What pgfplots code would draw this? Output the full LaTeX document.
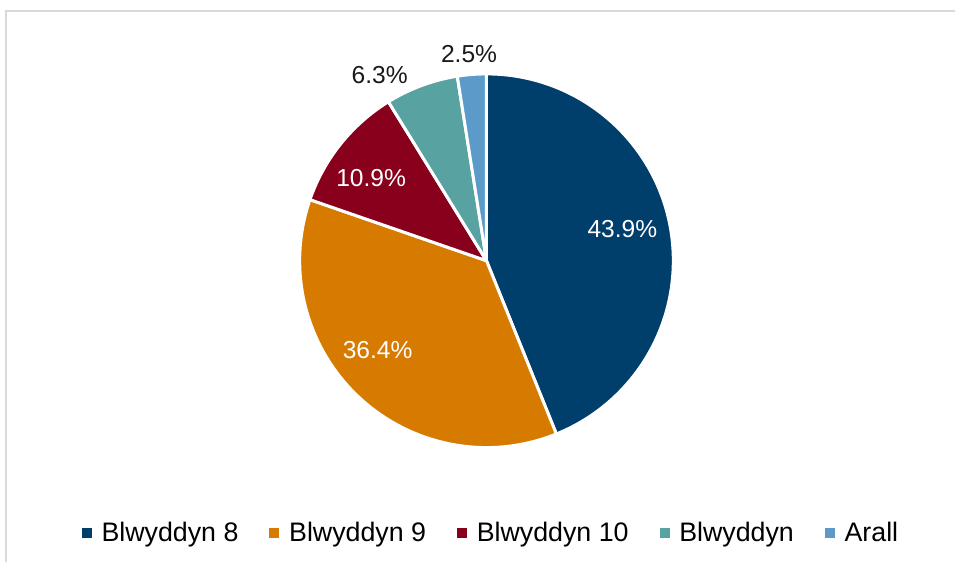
\documentclass[border=0pt]{standalone}
\usepackage{pgfplots}
\pgfplotsset{compat=1.18}
\usepackage{fontspec}
\setmainfont{Liberation Sans}
\definecolor{cA}{RGB}{0,62,107}
\definecolor{cB}{RGB}{215,123,0}
\definecolor{cC}{RGB}{136,0,27}
\definecolor{cD}{RGB}{88,162,162}
\definecolor{cE}{RGB}{92,155,201}
\definecolor{frame}{RGB}{217,217,217}
\newcommand{\lblfont}{\fontsize{12.3bp}{14bp}\selectfont}
\newcommand{\legfont}{\fontsize{13.4bp}{15bp}\selectfont}
% slice values (percent)
\def\vA{43.9}
\def\vB{36.4}
\def\vC{10.9}
\def\vD{6.3}
\def\vE{2.5}
\begin{document}
\begin{tikzpicture}
\begin{axis}[
  scale only axis,
  x=0.5bp, y=0.5bp,
  xmin=0, xmax=956, ymin=0, ymax=563,
  y dir=reverse,
  hide axis,
  clip=false,
  legend columns=5,
  legend style={draw=none, fill=none, font=\legfont,
    at={(axis cs:492.5,533.5)}, anchor=center,
    /tikz/every odd column/.append style={column sep=3bp},
    /tikz/every even column/.append style={column sep=13.5bp},
    inner sep=0pt},
  legend image code/.code={\fill[#1] (0bp,-2.25bp) rectangle (4.5bp,2.25bp);},
]
\path (axis cs:0,0) rectangle (axis cs:956,563);
\draw[frame, line width=1bp] (axis cs:6,563) -- (axis cs:6,11) -- (axis cs:956,11);
% pie slices, clockwise from 12 o'clock
\pgfmathsetmacro{\aA}{90}
\pgfmathsetmacro{\aB}{\aA-3.6*\vA}
\pgfmathsetmacro{\aC}{\aB-3.6*\vB}
\pgfmathsetmacro{\aD}{\aC-3.6*\vC}
\pgfmathsetmacro{\aE}{\aD-3.6*\vD}
\pgfmathsetmacro{\aF}{\aE-3.6*\vE}
\filldraw[fill=cA, draw=white, line width=1.5bp, line join=round] (axis cs:487,261) -- ++(\aA:93.5bp) arc[start angle=\aA, end angle=\aB, radius=93.5bp] -- cycle;
\filldraw[fill=cB, draw=white, line width=1.5bp, line join=round] (axis cs:487,261) -- ++(\aB:93.5bp) arc[start angle=\aB, end angle=\aC, radius=93.5bp] -- cycle;
\filldraw[fill=cC, draw=white, line width=1.5bp, line join=round] (axis cs:487,261) -- ++(\aC:93.5bp) arc[start angle=\aC, end angle=\aD, radius=93.5bp] -- cycle;
\filldraw[fill=cD, draw=white, line width=1.5bp, line join=round] (axis cs:487,261) -- ++(\aD:93.5bp) arc[start angle=\aD, end angle=\aE, radius=93.5bp] -- cycle;
\filldraw[fill=cE, draw=white, line width=1.5bp, line join=round] (axis cs:487,261) -- ++(\aE:93.5bp) arc[start angle=\aE, end angle=\aF, radius=93.5bp] -- cycle;
% data labels
\node[text=white, font=\lblfont, inner sep=0pt] at (axis cs:623,229) {43.9\%};
\node[text=white, font=\lblfont, inner sep=0pt] at (axis cs:378,350.5) {36.4\%};
\node[text=white, font=\lblfont, inner sep=0pt] at (axis cs:371.5,178.5) {10.9\%};
\node[text=black!90, font=\lblfont, inner sep=0pt] at (axis cs:380,75) {6.3\%};
\node[text=black!90, font=\lblfont, inner sep=0pt] at (axis cs:469.5,54.5) {2.5\%};
% legend
\addlegendimage{cA}\addlegendentry{Blwyddyn 8}
\addlegendimage{cB}\addlegendentry{Blwyddyn 9}
\addlegendimage{cC}\addlegendentry{Blwyddyn 10}
\addlegendimage{cD}\addlegendentry{Blwyddyn}
\addlegendimage{cE}\addlegendentry{Arall}
\end{axis}
\end{tikzpicture}
\end{document}
